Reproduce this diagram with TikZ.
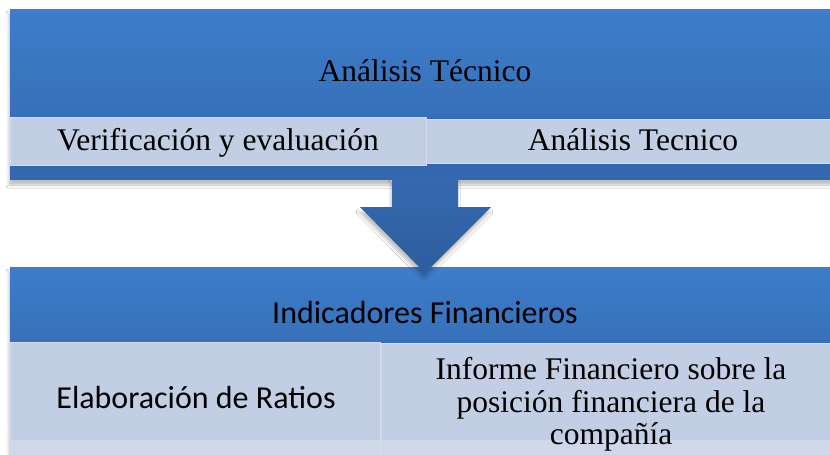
\documentclass[tikz,border=0pt]{standalone}
\usepackage{fontspec}
\setmainfont{Liberation Serif}
\newfontfamily\calib{Carlito}
\usetikzlibrary{shadows.blur,calc}
\definecolor{bluetop}{HTML}{3D7DCB}
\definecolor{bluemid}{HTML}{3770B9}
\definecolor{bluedark}{HTML}{3468AE}
\definecolor{cellfill}{HTML}{C2CEE4}
\definecolor{cellline}{HTML}{D3DBEC}
\definecolor{celllow}{HTML}{D3DBEB}
\definecolor{arrowtop}{HTML}{3569B0}
\definecolor{arrowbot}{HTML}{2D5D9D}
\begin{document}
\begin{tikzpicture}[x=1pt,y=-1pt,
  panel/.style={anchor=north west, inner sep=0pt, outer sep=0pt, draw=none},
  softshadow/.style={blur shadow={shadow xshift=-1pt, shadow yshift=-5pt, shadow blur radius=3pt, shadow opacity=25}},
  headband/.style={panel, top color=bluetop, bottom color=bluemid},
  cell/.style={panel, fill=cellfill, draw=cellline, line width=1pt},
  serif/.style={font=\fontsize{31.5}{32.5}\selectfont, text=black, align=center, inner sep=0pt},
  sans/.style={font=\calib\fontsize{32}{34}\selectfont, text=black, align=center, inner sep=0pt}]
\useasboundingbox (0,0) rectangle (830,455);
\fill[white] (0,0) rectangle (830,455);
\clip (0,0) rectangle (830,455);
% ---------- top panel ----------
\node[panel, fill=bluedark, softshadow, minimum width=840pt, minimum height=171pt] (topbox) at (10,9) {};
\node[headband, minimum width=840pt, minimum height=108pt] (tophead) at (10,9) {};
\node[cell, minimum width=416pt, minimum height=48pt] (topleft) at (10,117) {};
\node[cell, minimum width=424pt, minimum height=44pt] (topright) at (426,119) {};
\node[serif, anchor=base] (toptitle) at (425,81) {Análisis Técnico};
\node[serif, anchor=base] (toplefttxt) at (218,150.5) {Verificación y evaluación};
\node[serif, anchor=base] (toprighttxt) at (633,150.5) {Análisis Tecnico};
% ---------- bottom panel ----------
\node[panel, fill=cellfill, softshadow, minimum width=840pt, minimum height=200pt] (botbox) at (10,267) {};
\node[headband, minimum width=840pt, minimum height=75pt] (bothead) at (10,267) {};
\node[cell, minimum width=370pt, minimum height=130pt] (botleft) at (10,342) {};
\node[cell, minimum width=468pt, minimum height=130pt] (botright) at (381,343) {};
\fill[celllow, opacity=0.8] (10,440) rectangle (380,470);
\fill[celllow, opacity=0.8] (382,440) rectangle (850,470);
\node[sans, anchor=base] (bottitle) at (425,323) {Indicadores Financieros};
\node[sans, anchor=base] (botlefttxt) at (196,408) {Elaboración de Ratios};
\node[serif] (botrighttxt) at (611,404.5) {Informe Financiero sobre la\\posición financiera de la\\compañía};
% ---------- arrow ----------
\coordinate (arrowtail) at (425,180);
\coordinate (arrowtip) at (425,273);
\shade[top color=arrowtop, bottom color=arrowbot, softshadow]
  ($(arrowtail)+(-33,-2)$) -- ($(arrowtail)+(33,-2)$) -- ($(arrowtail)+(33,27)$)
  -- ($(arrowtail)+(66,27)$) -- (arrowtip) -- ($(arrowtail)+(-65,27)$)
  -- ($(arrowtail)+(-33,27)$) -- cycle;
\end{tikzpicture}
\end{document}
